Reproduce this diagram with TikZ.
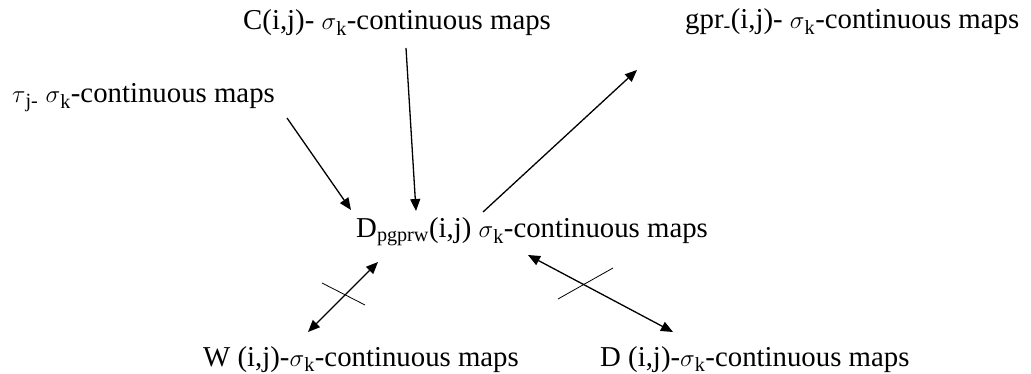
\documentclass[tikz,border=0pt]{standalone}
\usepackage{fontspec}
\setmainfont{Liberation Serif}
\usetikzlibrary{arrows.meta}
\begin{document}
\begin{tikzpicture}[x=1pt,y=-1pt,
    lbl/.style={anchor=base west,inner sep=0pt,font=\fontsize{28.8}{34}\selectfont},
    arr/.style={-{Triangle[length=12pt,width=10pt]},line width=1.3pt},
    barr/.style={{Triangle[length=12pt,width=10pt]}-{Triangle[length=12pt,width=10pt]},line width=1.3pt}]
  \useasboundingbox (0,0) rectangle (1031,374);
  \node[lbl] (tau) at (12,103) {$\tau$\textsubscript{j-} $\sigma$\textsubscript{k}-continuous maps};
  \node[lbl] (cij) at (243,30) {C(i,j)- $\sigma$\textsubscript{k}-continuous maps};
  \node[lbl] (gpr) at (685,29) {gpr\textsubscript{-}(i,j)- $\sigma$\textsubscript{k}-continuous maps};
  \node[lbl] (main) at (356,238) {D\textsubscript{pgprw}(i,j) $\sigma$\textsubscript{k}-continuous maps};
  \node[lbl] (wij) at (203,366) {W (i,j)-$\sigma$\textsubscript{k}-continuous maps};
  \node[lbl] (dij) at (600,366) {D (i,j)-$\sigma$\textsubscript{k}-continuous maps};
  % arrows into and out of the middle
  \draw[arr] ([shift={(275,15)}]tau.base west) -- ([shift={(-5,-28)}]main.base west);
  \draw[arr] ([shift={(163,18)}]cij.base west) -- ([shift={(60,-27)}]main.base west);
  \draw[arr] ([shift={(127,-26)}]main.base west) -- ([shift={(-48,41)}]gpr.base west);
  \draw[barr] ([shift={(105,-34)}]wij.base west) -- ([shift={(22,24)}]main.base west);
  \draw[barr] ([shift={(172,17)}]main.base west) -- ([shift={(73,-34)}]dij.base west);
  % crossing marks
  \draw[line width=0.8pt] (322,283) -- (365,305);
  \draw[line width=0.8pt] (558,299) -- (613,268);
\end{tikzpicture}
\end{document}
